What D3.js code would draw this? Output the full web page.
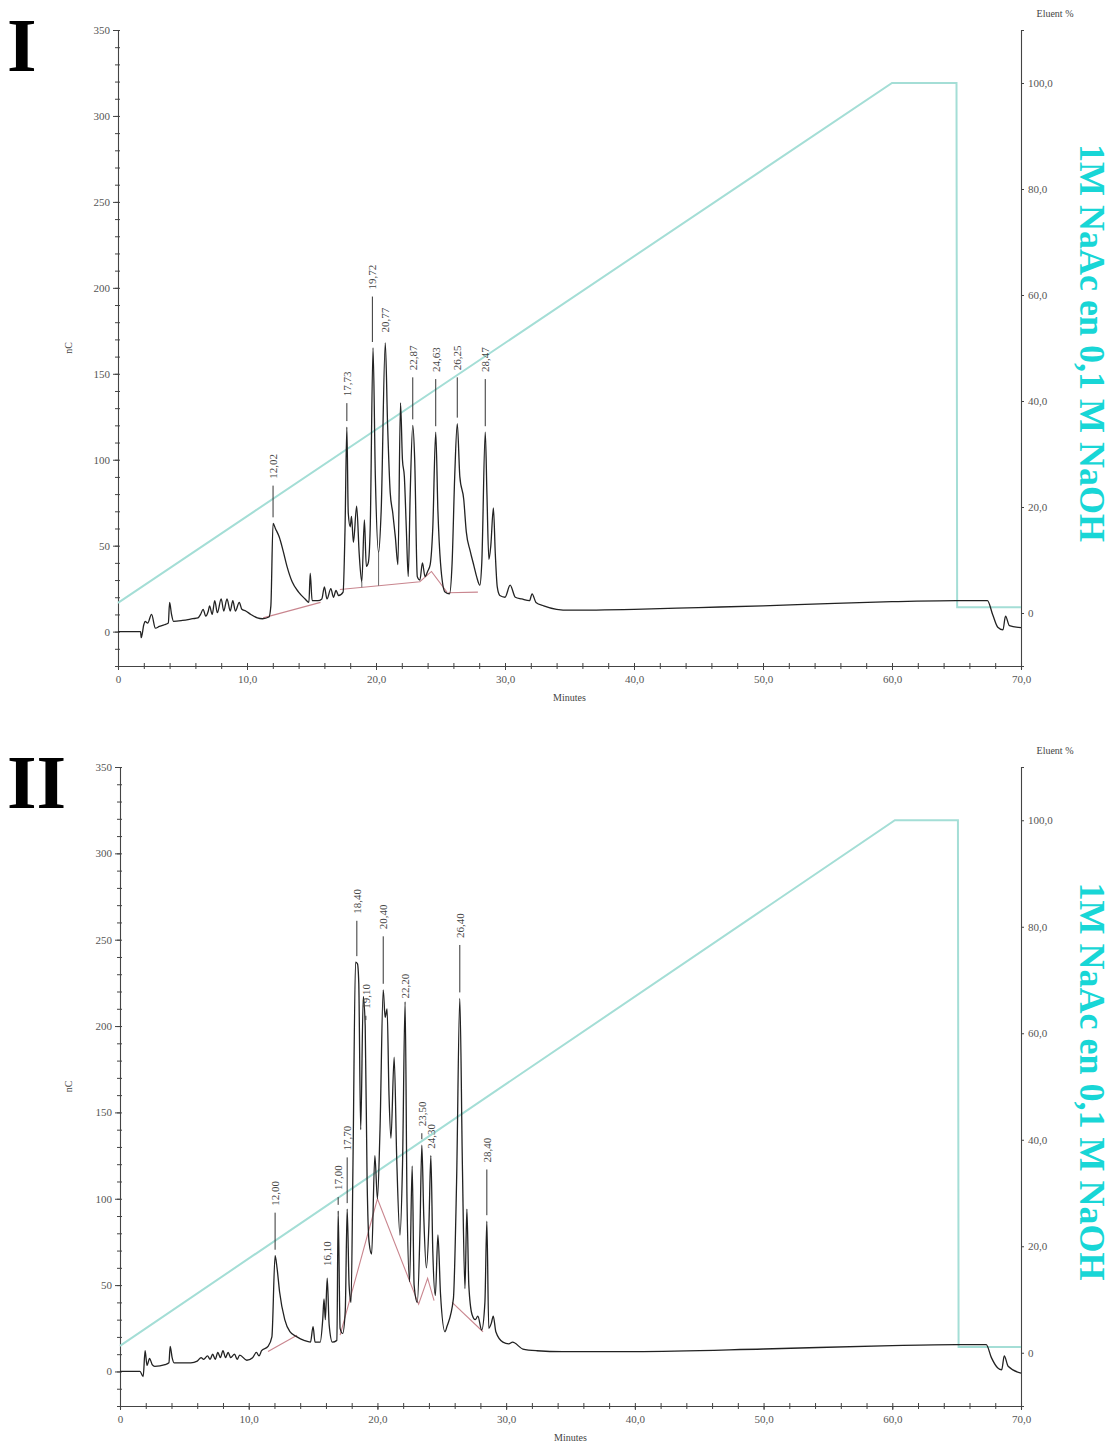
<!DOCTYPE html>
<html><head><meta charset="utf-8">
<script src="https://cdn.jsdelivr.net/npm/d3@7"></script>
<style>body{margin:0;background:#fff}svg{display:block}</style>
</head><body>
<svg id="c" width="1111" height="1443"></svg>
<script>
// ---------- DATA ----------
const timeTicks = [0,10,20,30,40,50,60,70];
const nCTicks = [0,50,100,150,200,250,300,350];
const eluentTicks = [0,20,40,60,80,100];
const panelNames = ["I","II"];

// chromatogram I: [minutes, nC]
const traceI = [
[0,0],[1.75,0],[1.8,-3.5],[2.0,4],[2.1,6],[2.3,5],[2.6,10],[2.9,2],[3.2,3],[3.6,4],[3.9,5],[4.0,17],[4.15,10],[4.3,6],
[5.0,6.5],[5.8,7.5],[6.2,8],[6.4,10],[6.6,13],[6.8,9],[7.0,12],[7.1,15],[7.3,10],[7.5,18],[7.7,11],[8.0,19],[8.2,12],
[8.45,19],[8.7,12],[8.9,18],[9.1,12],[9.4,17],[9.6,13],[9.9,12],[10.3,10],[10.8,8],[11.2,7.5],[11.7,8.5],[11.85,15],
[12.02,63],[12.2,60],[12.5,55],[12.8,47],[13.1,38],[13.5,29],[14.0,23],[14.5,19],[14.8,17],[14.9,34],[15.05,18],
[15.5,18],[15.8,19],[16.0,26],[16.2,19],[16.5,25],[16.7,20],[16.9,24],[17.1,21],[17.45,23],[17.6,60],[17.74,119],
[17.85,69],[18.0,61],[18.1,67],[18.25,52],[18.5,73],[18.7,45],[18.9,29],[19.1,65],[19.25,38],[19.4,40],[19.55,60],
[19.77,165],[19.95,90],[20.2,46],[20.4,70],[20.72,168],[20.9,120],[21.1,81],[21.3,69],[21.5,55],[21.7,39],[21.9,133],
[22.05,100],[22.2,90],[22.35,60],[22.5,32],[22.65,80],[22.85,120],[23.0,100],[23.2,32],[23.4,30],[23.6,40],[23.8,32],
[24.0,35],[24.2,39],[24.4,60],[24.63,116],[24.8,70],[25.0,40],[25.35,23],[25.7,22],[25.9,40],[26.1,90],[26.3,121],
[26.5,90],[26.8,77],[27.0,58],[27.3,47],[27.6,38],[27.8,32],[28.05,27],[28.2,40],[28.47,116],[28.6,80],[28.75,42],
[28.9,50],[29.1,72],[29.25,45],[29.4,26],[29.6,21],[30.0,20],[30.4,27],[30.8,20],[31.3,19],[31.9,18],[32.1,22],
[32.4,17],[33.0,15],[34.0,13],[35.0,12.5],[40.0,13],[45.0,14],[50.0,15],[55.0,16.3],[60.0,17.4],[65.0,18],[67.4,18],
[67.8,10],[68.2,2.5],[68.6,1],[68.8,9],[69.1,3.5],[70,2.3]
];
// chromatogram II: [minutes, nC]
const traceII = [
[0,0],[1.55,0],[1.8,-3],[1.95,12],[2.1,3.5],[2.3,7.5],[2.5,4],[2.7,3],[3.5,4],[3.8,5],[3.9,14.5],[4.05,8],[4.2,5],
[5.5,5],[6.0,6],[6.3,8],[6.5,7],[6.8,9],[7.0,7],[7.2,10],[7.4,7],[7.6,11],[7.8,8],[8.0,12],[8.2,8],[8.4,11],[8.6,8],
[8.9,10],[9.1,7],[9.3,9.5],[9.85,6.5],[10.3,8],[10.6,11],[10.8,9],[11.0,12],[11.5,14.5],[11.8,20],[12.05,67],[12.2,60],
[12.4,46],[12.8,30],[13.2,23],[13.75,20],[14.3,18],[14.8,17],[15.0,26],[15.15,17],[15.55,17],[15.75,30],[15.85,42],
[15.95,30],[16.1,54],[16.25,27],[16.5,17],[16.85,18],[16.95,93],[17.1,25],[17.3,22],[17.5,35],[17.65,94],[17.8,50],
[17.95,40],[18.1,120],[18.3,237],[18.45,236],[18.55,225],[18.7,140],[18.9,217],[19.05,200],[19.2,110],[19.35,75],
[19.55,68],[19.8,125],[20.0,100],[20.2,140],[20.45,221],[20.6,205],[20.75,210],[20.9,160],[21.05,135],[21.3,182],
[21.5,123],[21.75,79],[21.95,120],[22.15,214],[22.3,98],[22.5,52],[22.7,119],[22.85,50],[23.1,40],[23.3,80],
[23.45,131],[23.6,90],[23.8,60],[24.0,85],[24.15,125],[24.3,70],[24.5,44],[24.7,79],[24.9,45],[25.25,23],[25.4,26],
[25.9,42],[26.15,110],[26.4,216],[26.6,120],[26.8,48],[26.95,94],[27.1,50],[27.35,33],[27.6,30],[27.8,32],[28.1,24],
[28.35,40],[28.5,87],[28.65,25],[28.85,28],[29.0,32],[29.2,23],[29.75,17],[30.2,16],[30.5,17],[31.3,13],[32.4,12],
[34.4,11.5],[40,11.5],[50,13],[60,15],[65,15.5],[67.3,15.5],[67.7,8],[68.2,2],[68.5,1],[68.7,9],[69.0,3],[70,-1]
];
// integration baselines: [minutes, nC]
const baselineI = [
 [[11.25,8],[15.7,17]],
 [[17.2,24.5],[23.4,29],[24.3,35],[25.5,23]],
 [[25.6,22.6],[27.9,23]]
];
const baselineII = [
 [[11.5,11.5],[13.75,21]],
 [[17.1,21],[20.0,100],[23.2,39],[23.9,54],[24.4,41]],
 [[25.8,40],[28.2,23]]
];
// peak drop lines (valley minutes)
const dropsI = [18.9, 20.2];
const dropsII = [];
// eluent gradient: [minutes, %]
const gradientI = [[0,1.9],[60,100],[65,100],[65.05,1.1],[70,1.1]];
const gradientII = [[0,1.3],[60.2,100],[65.1,100],[65.15,1.1],[70,1.1]];
// peak labels: [text, minutes, nC level of label foot]
const peaksI = [["12,02",12.02,89],["17,73",17.74,137],["19,72",19.72,199],["20,77",20.72,174],
 ["22,87",22.85,152],["24,63",24.63,151],["26,25",26.3,152],["28,47",28.47,151]];
const peaksII = [["12,00",12.05,96],["16,10",16.1,61],["17,00",16.95,105],["17,70",17.65,128],
 ["18,40",18.4,265],["19,10",19.1,210],["20,40",20.45,256],["22,20",22.15,216],["23,50",23.45,142],
 ["24,30",24.2,129],["26,40",26.4,251],["28,40",28.5,121]];
const sideLabel = "1M NaAc en 0,1 M NaOH";

// ---------- DRAW ----------
const svg = d3.select("#c");
const serif = "'Liberation Serif','Times New Roman',serif";
const fmtX = d => d === 0 ? "0" : d3.format(".1f")(d).replace(".", ",");

const panels = [
 {name:panelNames[0], x0:118, x1:1021, yTop:30, yBot:666, trace:traceI, base:baselineI, drops:dropsI, grad:gradientI, peaks:peaksI, titleY:71},
 {name:panelNames[1], x0:120, x1:1021, yTop:767, yBot:1406, trace:traceII, base:baselineII, drops:dropsII, grad:gradientII, peaks:peaksII, titleY:808}
];

panels.forEach(p => {
  const g = svg.append("g");
  const x = d3.scaleLinear().domain([0,70]).range([p.x0,p.x1]);
  const y = d3.scaleLinear().domain([-20,350]).range([p.yBot,p.yTop]);
  const yR = d3.scaleLinear().domain([-10,110]).range([p.yBot,p.yTop]);

  const styleAxis = sel => {
    sel.select(".domain").attr("stroke","#444").attr("stroke-width",1.1);
    sel.selectAll(".tick line").attr("stroke","#444");
    sel.selectAll("text").attr("font-family",serif).attr("font-size",11).attr("fill","#555");
  };

  // left axis
  const minorY = d3.range(-20,351,10);
  g.append("g").attr("transform",`translate(${p.x0},0)`)
    .call(d3.axisLeft(y).tickValues(minorY).tickSize(3).tickFormat(""))
    .call(styleAxis);
  g.append("g").attr("transform",`translate(${p.x0},0)`)
    .call(d3.axisRight(y).tickValues(minorY).tickSize(2).tickFormat(""))
    .call(s=>s.select(".domain").remove()).call(styleAxis);
  g.append("g").attr("transform",`translate(${p.x0},0)`)
    .call(d3.axisLeft(y).tickValues(nCTicks).tickSize(5).tickPadding(3))
    .call(s=>s.select(".domain").remove()).call(styleAxis);

  // bottom axis
  const minorX = d3.range(0,71,2);
  g.append("g").attr("transform",`translate(0,${p.yBot})`)
    .call(d3.axisBottom(x).tickValues(minorX).tickSize(3).tickFormat(""))
    .call(styleAxis);
  g.append("g").attr("transform",`translate(0,${p.yBot})`)
    .call(d3.axisTop(x).tickValues(minorX).tickSize(3).tickFormat(""))
    .call(s=>s.select(".domain").remove()).call(styleAxis);
  g.append("g").attr("transform",`translate(0,${p.yBot})`)
    .call(d3.axisBottom(x).tickValues(timeTicks).tickSize(4).tickPadding(5).tickFormat(fmtX))
    .call(s=>s.select(".domain").remove()).call(styleAxis);

  // right axis
  g.append("g").attr("transform",`translate(${p.x1},0)`)
    .call(d3.axisRight(yR).tickValues(eluentTicks).tickSize(3).tickPadding(4).tickFormat(fmtX))
    .call(styleAxis);

  // axis titles
  g.append("text").attr("transform",`translate(72,${(p.yTop+p.yBot)/2}) rotate(-90)`)
    .attr("text-anchor","middle").attr("font-family",serif).attr("font-size",10).attr("fill","#444").text("nC");
  g.append("text").attr("x",(p.x0+p.x1)/2).attr("y",p.yBot+35)
    .attr("text-anchor","middle").attr("font-family",serif).attr("font-size",10).attr("fill","#444").text("Minutes");
  g.append("text").attr("x",p.x1+34).attr("y",p.yTop-13)
    .attr("text-anchor","middle").attr("font-family",serif).attr("font-size",10).attr("fill","#444").text("Eluent %");

  // eluent gradient
  g.append("path").datum(p.grad)
    .attr("d", d3.line().x(d=>x(d[0])).y(d=>yR(d[1])))
    .attr("fill","none").attr("stroke","#a4ded6").attr("stroke-width",2);

  // baselines
  p.base.forEach(seg => {
    g.append("path").datum(seg)
      .attr("d", d3.line().x(d=>x(d[0])).y(d=>y(d[1])))
      .attr("fill","none").attr("stroke","#c9868f").attr("stroke-width",1.1);
  });

  // drop lines from valleys to baseline
  const allBase = p.base.flat();
  p.drops.forEach(t => {
    const near = p.trace.filter(d => Math.abs(d[0]-t) <= 0.06);
    const v = near.length ? near[0][1] : 0;
    const bl = d3.least(allBase, d => Math.abs(d[0]-t));
    const seg = p.base.find(s => s[0][0] <= t && s[s.length-1][0] >= t);
    let bv = bl[1];
    if (seg) { const i = d3.bisector(d=>d[0]).right(seg, t); const a=seg[i-1], b=seg[i]; bv = a[1] + (b[1]-a[1])*(t-a[0])/(b[0]-a[0]); }
    g.append("line").attr("x1",x(t)).attr("x2",x(t)).attr("y1",y(v)).attr("y2",y(bv))
      .attr("stroke","#666").attr("stroke-width",1);
  });

  // chromatogram
  g.append("path").datum(p.trace)
    .attr("d", d3.line().x(d=>x(d[0])).y(d=>y(d[1])).curve(d3.curveMonotoneX))
    .attr("fill","none").attr("stroke","#222").attr("stroke-width",1.3).attr("stroke-linejoin","round");

  // peak labels
  p.peaks.forEach(([txt,t,lv]) => {
    const near = p.trace.filter(d => Math.abs(d[0]-t) <= 0.2);
    const pk = d3.max(near, d=>d[1]);
    const yPk = y(pk) - 6, yFoot = y(lv) + 7;
    if (yPk - yFoot > 4) {
      g.append("line").attr("x1",x(t)).attr("x2",x(t)).attr("y1",yFoot).attr("y2",yPk)
        .attr("stroke","#333").attr("stroke-width",1);
    }
    g.append("text").attr("transform",`translate(${x(t)},${y(lv)}) rotate(-90)`)
      .attr("dy","0.35em").attr("font-family",serif).attr("font-size",11).attr("fill","#444").text(txt);
  });

  // side label
  g.append("text").attr("transform",`translate(1080,${(p.yTop+p.yBot)/2 - 5}) rotate(90)`)
    .attr("text-anchor","middle").attr("font-family",serif).attr("font-weight","bold")
    .attr("font-size",36).attr("fill","#18d6d6").text(sideLabel);

  // panel title
  g.append("text").attr("x",7).attr("y",p.titleY).attr("font-family",serif).attr("font-weight","bold")
    .attr("font-size",76).attr("fill","#000").text(p.name);
});
</script>
</body></html>
